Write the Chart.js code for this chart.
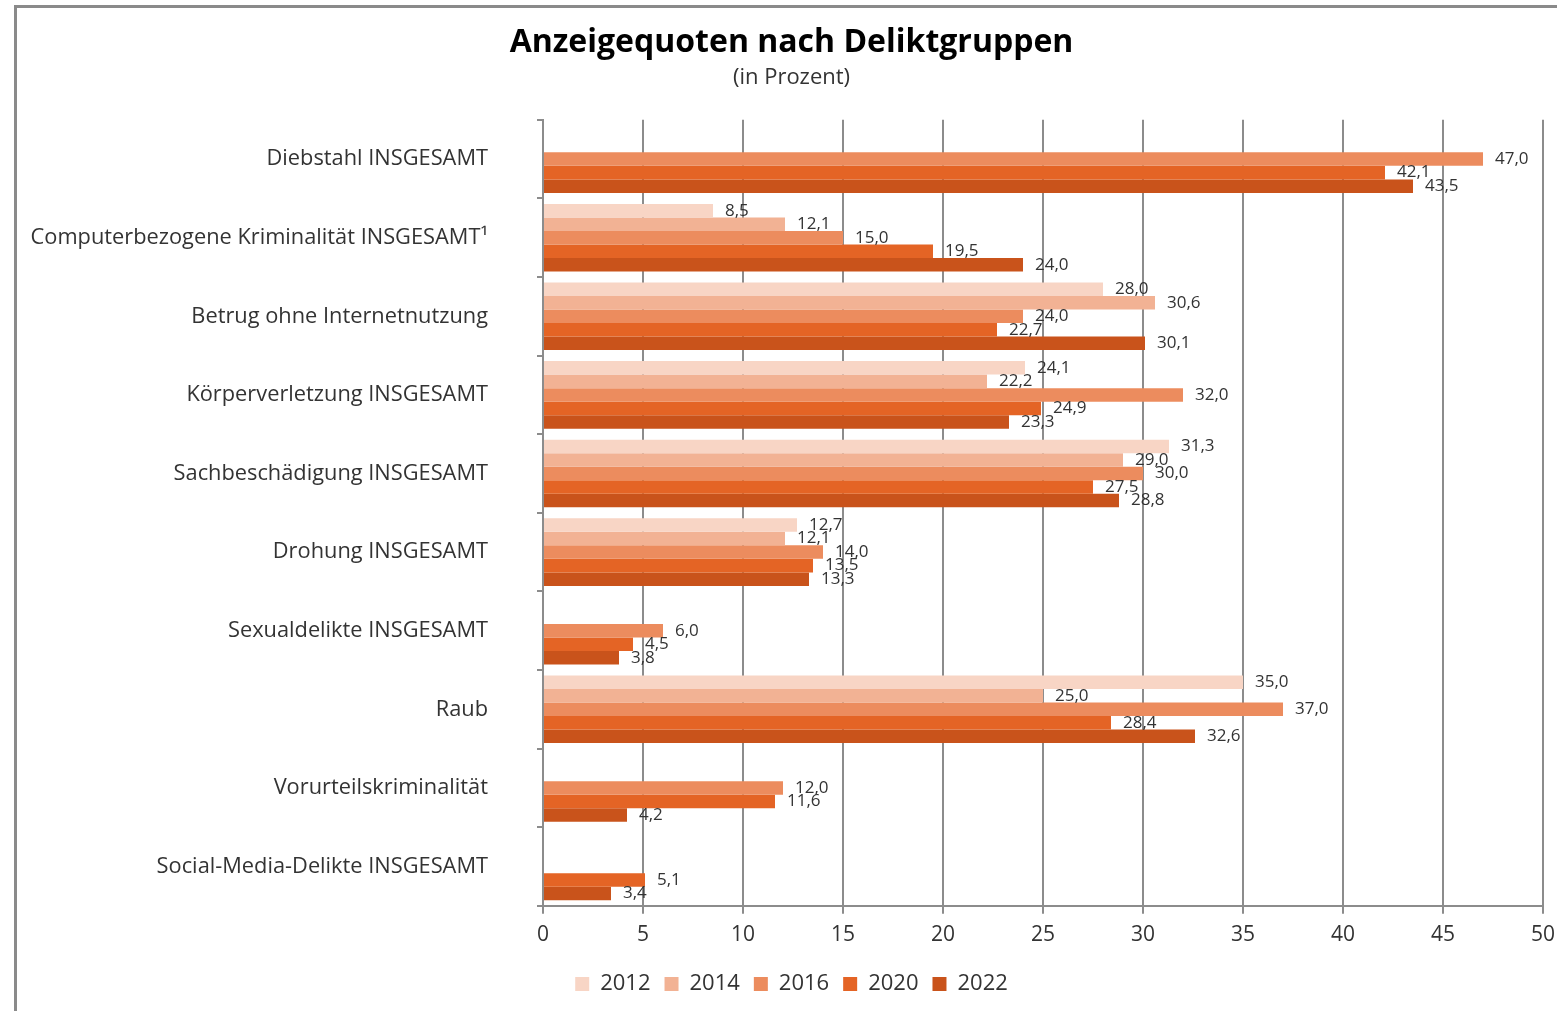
<!DOCTYPE html>
<html lang="de">
<head>
    <meta charset="UTF-8">
    <title>Anzeigequoten nach Deliktgruppen</title>
    <script src="https://cdn.jsdelivr.net/npm/chart.js"></script>
    <style>
        body { margin: 0; background: #fff; }
        #wrap { position: relative; width: 1557px; height: 1011px; overflow: hidden; }
        #frame { position: absolute; left: 14px; top: 5px; width: 1700px; height: 1200px; border: 3px solid #8a8a8a; }
        #chart { position: absolute; left: 0; top: 0; }
    </style>
</head>
<body>
    <div id="wrap">
        <div id="frame"></div>
        <canvas id="chart" width="1557" height="1011"></canvas>
    </div>

    <script>
        const categories = [
            'Diebstahl INSGESAMT',
            'Computerbezogene Kriminalität INSGESAMT¹',
            'Betrug ohne Internetnutzung',
            'Körperverletzung INSGESAMT',
            'Sachbeschädigung INSGESAMT',
            'Drohung INSGESAMT',
            'Sexualdelikte INSGESAMT',
            'Raub',
            'Vorurteilskriminalität',
            'Social-Media-Delikte INSGESAMT'
        ];
        const years = ['2012', '2014', '2016', '2020', '2022'];

        const values2012 = [null, 8.5, 28.0, 24.1, 31.3, 12.7, null, 35.0, null, null];
        const values2014 = [null, 12.1, 30.6, 22.2, 29.0, 12.1, null, 25.0, null, null];
        const values2016 = [47.0, 15.0, 24.0, 32.0, 30.0, 14.0, 6.0, 37.0, 12.0, null];
        const values2020 = [42.1, 19.5, 22.7, 24.9, 27.5, 13.5, 4.5, 28.4, 11.6, 5.1];
        const values2022 = [43.5, 24.0, 30.1, 23.3, 28.8, 13.3, 3.8, 32.6, 4.2, 3.4];

        const colors = ['#f8d5c5', '#f2b294', '#ec8c5e', '#e46425', '#c9531b'];
        const series = [values2012, values2014, values2016, values2020, values2022];

        const FONT = '"Open Sans", "Noto Sans", sans-serif';
        const TEXT = '#333333';
        const GRID = '#8c8c8c';

        // value labels at the end of each bar, German decimal comma
        const valueLabels = {
            id: 'valueLabels',
            afterDatasetsDraw(chart) {
                const ctx = chart.ctx;
                ctx.save();
                ctx.font = '17px ' + FONT;
                ctx.fillStyle = TEXT;
                ctx.textAlign = 'left';
                ctx.textBaseline = 'middle';
                chart.data.datasets.forEach((ds, i) => {
                    const meta = chart.getDatasetMeta(i);
                    meta.data.forEach((bar, j) => {
                        const v = ds.data[j];
                        if (v === null || v === undefined) return;
                        ctx.fillText(v.toFixed(1).replace('.', ','), bar.x + 12, bar.y);
                    });
                });
                ctx.restore();
            }
        };

        const ctx = document.getElementById('chart').getContext('2d');
        const chart = new Chart(ctx, {
            type: 'bar',
            data: {
                labels: categories,
                datasets: series.map((data, i) => ({
                    label: years[i],
                    data: data,
                    backgroundColor: colors[i],
                    borderWidth: 0,
                    categoryPercentage: 0.86,
                    barPercentage: 1.0
                }))
            },
            options: {
                indexAxis: 'y',
                responsive: false,
                animation: false,
                layout: { padding: { left: 26, right: 0, top: 24, bottom: 6 } },
                plugins: {
                    title: {
                        display: true,
                        text: 'Anzeigequoten nach Deliktgruppen',
                        color: '#000',
                        font: { family: FONT, size: 32, weight: 'bold' },
                        padding: { top: 0, bottom: 2 }
                    },
                    subtitle: {
                        display: true,
                        text: '(in Prozent)',
                        color: TEXT,
                        font: { family: FONT, size: 22 },
                        padding: { top: 0, bottom: 29 }
                    },
                    legend: {
                        position: 'bottom',
                        labels: {
                            color: TEXT,
                            font: { family: FONT, size: 22 },
                            boxWidth: 14,
                            boxHeight: 14,
                            padding: 14
                        }
                    },
                    tooltip: { enabled: false }
                },
                scales: {
                    x: {
                        min: 0,
                        max: 50,
                        afterFit: (scale) => {
                            scale.height += 2;
                            scale.paddingRight = 14;
                        },
                        ticks: {
                            stepSize: 5,
                            color: TEXT,
                            font: { family: FONT, size: 21 },
                            padding: 9
                        },
                        grid: { color: GRID, lineWidth: 2, tickLength: 8 },
                        border: { color: GRID, width: 2 }
                    },
                    y: {
                        afterFit: (scale) => { scale.width = 517; },
                        ticks: {
                            color: TEXT,
                            font: { family: FONT, size: 21.8 },
                            padding: 49
                        },
                        grid: { drawOnChartArea: false, color: GRID, lineWidth: 2, tickLength: 6 },
                        border: { color: GRID, width: 2 }
                    }
                }
            },
            plugins: [valueLabels]
        });
    </script>
</body>
</html>
